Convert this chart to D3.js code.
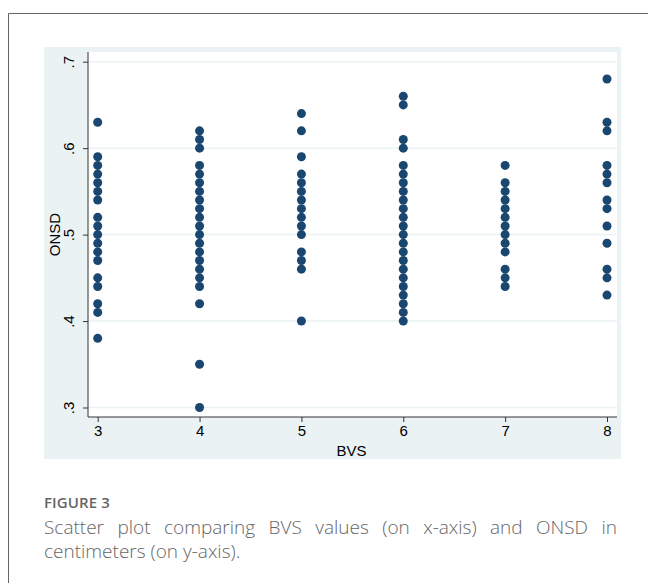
<!DOCTYPE html>
<html>
<head>
<meta charset="utf-8">
<script src="https://cdn.jsdelivr.net/npm/d3@7"></script>
<style>
  body { margin: 0; background: #fff; }
  #wrap { position: relative; width: 648px; height: 583px; overflow: hidden; }
  .caption { position: absolute; left: 44px; width: 573px; font-family: "Open Sans", sans-serif; color: #666; }
  #fig { top: 492px; font-size: 15px; font-weight: 600; letter-spacing: 0.1px; }
  .capline { font-size: 19px; line-height: 24px; font-weight: 300; white-space: nowrap; }
  #cap1 { top: 515px; text-align: justify; text-align-last: justify; white-space: normal; }
  #cap2 { top: 539px; }
</style>
</head>
<body>
<div id="wrap">
  <svg id="chart" width="648" height="583"></svg>
  <div class="caption" id="fig">FIGURE 3</div>
  <div class="caption capline" id="cap1">Scatter plot comparing BVS values (on x-axis) and ONSD in</div>
  <div class="caption capline" id="cap2">centimeters (on y-axis).</div>
</div>
<script>
// ONSD values, one list per BVS score
const bvsTicks = [3, 4, 5, 6, 7, 8]
const onsdTicks = [0.3, 0.4, 0.5, 0.6, 0.7]
const onsdTickLabels = [".3", ".4", ".5", ".6", ".7"]

const onsd3 = [.63, .59, .58, .57, .56, .55, .54, .52, .51, .50, .49, .48, .47, .45, .44, .42, .41, .38]
const onsd4 = [.62, .61, .60, .58, .57, .56, .55, .54, .53, .52, .51, .50, .49, .48, .47, .46, .45, .44, .42, .35, .30]
const onsd5 = [.64, .62, .59, .57, .56, .55, .54, .53, .52, .51, .50, .48, .47, .46, .40]
const onsd6 = [.66, .65, .61, .60, .58, .57, .56, .55, .54, .53, .52, .51, .50, .49, .48, .47, .46, .45, .44, .43, .42, .41, .40]
const onsd7 = [.58, .56, .55, .54, .53, .52, .51, .50, .49, .48, .46, .45, .44]
const onsd8 = [.68, .63, .62, .58, .57, .56, .54, .53, .51, .49, .46, .45, .43]

const groups = [onsd3, onsd4, onsd5, onsd6, onsd7, onsd8]
const points = groups.flatMap((g, i) => g.map(v => ({ bvs: bvsTicks[i], onsd: v })))

const svg = d3.select('#chart')
const font = 'Liberation Sans, Arial, sans-serif'

// outer frame (top and left only, runs off the page)
svg.append('path')
    .attr('d', 'M8.5,583 V13.5 H648')
    .attr('fill', 'none')
    .attr('stroke', '#666')
    .attr('stroke-width', 1)

// graph region background
svg.append('rect')
    .attr('x', 44).attr('y', 47)
    .attr('width', 577).attr('height', 412)
    .attr('fill', '#eaf2f3')

const plot = { left: 88, right: 617, top: 52, bottom: 417 }

svg.append('rect')
    .attr('x', plot.left).attr('y', plot.top)
    .attr('width', plot.right - plot.left).attr('height', plot.bottom - plot.top)
    .attr('fill', '#fff')

const x = d3.scaleLinear()
    .domain([3, 8])
    .range([97.7, 607])

const y = d3.scaleLinear()
    .domain([0.3, 0.7])
    .range([407.5, 61.7])

// horizontal gridlines
svg.append('g')
    .selectAll('line')
    .data(onsdTicks)
    .join('line')
        .attr('x1', plot.left)
        .attr('x2', plot.right)
        .attr('y1', d => y(d))
        .attr('y2', d => y(d))
        .attr('stroke', '#eaf2f3')
        .attr('stroke-width', 1.5)

const xAxis = g => g
    .attr('transform', `translate(0,${plot.bottom})`)
    .call(d3.axisBottom(x).tickValues(bvsTicks).tickFormat(d3.format('d')).tickSize(5).tickSizeOuter(0))

const yAxis = g => g
    .attr('transform', `translate(${plot.left},0)`)
    .call(d3.axisLeft(y).tickValues(onsdTicks).tickFormat((d, i) => onsdTickLabels[i]).tickSize(5).tickSizeOuter(0))

const gx = svg.append('g').call(xAxis)
const gy = svg.append('g').call(yAxis)

// stretch axis lines to the plot edges
gx.select('.domain').attr('d', `M${plot.left},0H${plot.right}`)
gy.select('.domain').attr('d', `M0,${plot.top}V${plot.bottom}`)

svg.selectAll('.domain, .tick line').attr('stroke', '#333')
gx.attr('font-size', 15).attr('font-family', font)
gy.attr('font-size', 15).attr('font-family', font)
svg.selectAll('.tick text').attr('fill', '#000')

gx.selectAll('.tick text').attr('y', 8).attr('dy', '0.71em')

// y tick labels are rotated in the reference
gy.selectAll('.tick text')
    .attr('x', null).attr('dy', null)
    .attr('text-anchor', 'middle')
    .attr('transform', 'translate(-14,0) rotate(-90)')

// axis titles
svg.append('text')
    .attr('x', (plot.left + plot.right) / 2 - 1)
    .attr('y', 456)
    .attr('text-anchor', 'middle')
    .attr('font-family', font)
    .attr('font-size', 15)
    .attr('fill', '#000')
    .text('BVS')

svg.append('text')
    .attr('transform', `translate(60,${(plot.top + plot.bottom) / 2}) rotate(-90)`)
    .attr('text-anchor', 'middle')
    .attr('font-family', font)
    .attr('font-size', 15)
    .attr('fill', '#000')
    .text('ONSD')

// the dots
svg.append('g')
    .selectAll('circle')
    .data(points)
    .join('circle')
        .attr('cx', d => x(d.bvs))
        .attr('cy', d => y(d.onsd))
        .attr('r', 4.5)
        .attr('fill', '#1a476f')
</script>
</body>
</html>
